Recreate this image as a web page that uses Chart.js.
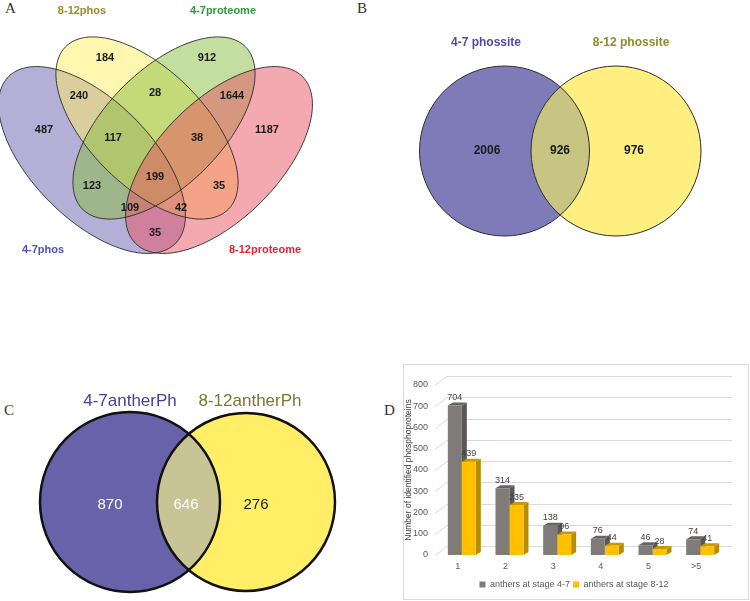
<!DOCTYPE html>
<html lang="en">
<head>
<meta charset="UTF-8">
<title>Anther phosphoproteome overlaps</title>
<script src="https://cdn.jsdelivr.net/npm/chart.js"></script>
<style>
  body { margin: 0; background: #fff; }
  #page { position: relative; width: 750px; height: 601px; overflow: hidden; }
  .letter { position: absolute; font-family: "Liberation Serif", "DejaVu Serif", serif; font-size: 15px; color: #333; line-height: 17px; }
  .box { position: absolute; }
  #boxD { border: 1px solid #d9d9d9; }
  canvas { display: block; }
</style>
</head>
<body>
<div id="page">
  <div class="letter" style="left:5px;top:0px">A</div>
  <div class="letter" style="left:357px;top:0px">B</div>
  <div class="letter" style="left:4px;top:402px">C</div>
  <div class="letter" style="left:384px;top:402px">D</div>

  <div class="box" style="left:0;top:0"><canvas id="chartA" width="375" height="300"></canvas></div>
  <div class="box" style="left:380px;top:0"><canvas id="chartB" width="370" height="300"></canvas></div>
  <div class="box" style="left:0;top:380px"><canvas id="chartC" width="375" height="221"></canvas></div>
  <div class="box" id="boxD" style="left:403px;top:364px"><canvas id="chartD" width="344" height="234"></canvas></div>
</div>
<script>
  Chart.defaults.font.family = '"Liberation Sans", Arial, sans-serif';

  // ---- A: four-way venn ----
  const quadSetNames = ['4-7phos', '8-12phos', '4-7proteome', '8-12proteome'];
  const quadRegionCounts = [184, 912, 240, 28, 1644, 487, 117, 38, 1187, 123, 199, 35, 109, 42, 35];

  // ---- B: phosphosites ----
  const phossiteSetNames = ['4-7 phossite', '8-12 phossite'];
  const phossiteCounts = [2006, 926, 976];

  // ---- C: anther phosphoproteins ----
  const antherSetNames = ['4-7antherPh', '8-12antherPh'];
  const antherCounts = [870, 646, 276];

  // ---- D: phosphosites per protein ----
  const siteGroups = ['1', '2', '3', '4', '5', '>5'];
  const stage47 = [704, 314, 138, 76, 46, 74];
  const stage812 = [439, 235, 96, 44, 28, 41];
  const stageNames = ['anthers at stage 4-7', 'anthers at stage 8-12'];
  const yTickStep = 100;
  const yMax = 800;

  // venn layout, panel units = pixels of each panel
  const quadEllipses = [
    { cx: 92, cy: 160, a: 118, b: 59.5, rot: 45, fill: 'rgba(105,95,175,0.5)' },
    { cx: 147, cy: 128, a: 115, b: 58, rot: 45, fill: 'rgba(255,237,97,0.5)' },
    { cx: 164, cy: 128, a: 115, b: 58, rot: -45, fill: 'rgba(137,189,65,0.5)' },
    { cx: 219, cy: 160, a: 118, b: 59.5, rot: -45, fill: 'rgba(233,81,97,0.5)' }
  ];
  const quadSetSpots = [[43, 250], [82, 11], [223, 11], [265, 250]];
  const quadSetColors = ['#5050b8', '#9a8c2a', '#2e9a3a', '#e0262e'];
  const quadRegionSpots = [
    [105, 58], [207, 58],
    [79, 96], [155, 93], [232, 96],
    [44, 130], [113, 138], [197, 138], [267, 130],
    [92, 186], [155, 177], [219, 186],
    [130, 208], [181, 208],
    [155, 233]
  ];

  function ellipsePath(ctx, xs, ys, e) {
    const th = e.rot * Math.PI / 180;
    ctx.beginPath();
    for (let i = 0; i <= 180; i++) {
      const t = i / 180 * Math.PI * 2;
      const px = e.cx + e.a * Math.cos(t) * Math.cos(th) - e.b * Math.sin(t) * Math.sin(th);
      const py = e.cy + e.a * Math.cos(t) * Math.sin(th) + e.b * Math.sin(t) * Math.cos(th);
      const X = xs.getPixelForValue(px), Y = ys.getPixelForValue(py);
      if (i === 0) ctx.moveTo(X, Y); else ctx.lineTo(X, Y);
    }
    ctx.closePath();
  }

  function drawCounts(chart, font, colors) {
    const ctx = chart.ctx;
    const meta = chart.getDatasetMeta(0);
    const vals = chart.data.datasets[0].counts;
    ctx.save();
    ctx.font = font;
    ctx.textAlign = 'center';
    ctx.textBaseline = 'middle';
    meta.data.forEach((pt, i) => {
      ctx.fillStyle = Array.isArray(colors) ? colors[i] : colors;
      ctx.fillText(vals[i], pt.x, pt.y);
    });
    ctx.restore();
  }

  const quadPlugin = {
    id: 'quadVenn',
    beforeDatasetsDraw(chart) {
      const ctx = chart.ctx, xs = chart.scales.x, ys = chart.scales.y;
      ctx.save();
      quadEllipses.forEach(e => { ellipsePath(ctx, xs, ys, e); ctx.fillStyle = e.fill; ctx.fill(); });
      ctx.strokeStyle = '#2a2a2a';
      ctx.lineWidth = 0.9;
      quadEllipses.forEach(e => { ellipsePath(ctx, xs, ys, e); ctx.stroke(); });
      ctx.font = 'bold 11px "Liberation Sans", Arial, sans-serif';
      ctx.textAlign = 'center';
      ctx.textBaseline = 'middle';
      quadSetNames.forEach((n, i) => {
        ctx.fillStyle = quadSetColors[i];
        ctx.fillText(n, xs.getPixelForValue(quadSetSpots[i][0]), ys.getPixelForValue(quadSetSpots[i][1]));
      });
      ctx.restore();
    },
    afterDatasetsDraw(chart) {
      drawCounts(chart, 'bold 11px "Liberation Sans", Arial, sans-serif', '#1a1a1a');
    }
  };

  function vennScatter(id, w, h, counts, spots, plugin) {
    return new Chart(document.getElementById(id), {
      type: 'scatter',
      data: {
        datasets: [{
          data: spots.map(p => ({ x: p[0], y: p[1] })),
          counts: counts,
          pointRadius: 0
        }]
      },
      options: {
        responsive: false,
        animation: false,
        layout: { padding: 0 },
        scales: {
          x: { display: false, min: 0, max: w },
          y: { display: false, min: 0, max: h, reverse: true }
        },
        plugins: { legend: { display: false }, tooltip: { enabled: false } }
      },
      plugins: [plugin]
    });
  }

  vennScatter('chartA', 375, 300, quadRegionCounts, quadRegionSpots, quadPlugin);

  // two circle venn
  function pairPlugin(cfg) {
    return {
      id: 'pairVenn',
      beforeDatasetsDraw(chart) {
        const ctx = chart.ctx, xs = chart.scales.x, ys = chart.scales.y;
        const circ = c => {
          const r = Math.abs(xs.getPixelForValue(c.r) - xs.getPixelForValue(0));
          ctx.beginPath();
          ctx.arc(xs.getPixelForValue(c.x), ys.getPixelForValue(c.y), r, 0, Math.PI * 2);
        };
        ctx.save();
        circ(cfg.circles[0]); ctx.fillStyle = cfg.fills[0]; ctx.fill();
        circ(cfg.circles[1]); ctx.fillStyle = cfg.fills[1]; ctx.fill();
        ctx.save();
        circ(cfg.circles[0]); ctx.clip();
        circ(cfg.circles[1]); ctx.fillStyle = cfg.fills[2]; ctx.fill();
        ctx.restore();
        ctx.strokeStyle = cfg.stroke;
        ctx.lineWidth = cfg.strokeWidth;
        circ(cfg.circles[0]); ctx.stroke();
        circ(cfg.circles[1]); ctx.stroke();
        ctx.font = cfg.setFont;
        ctx.textAlign = 'center';
        ctx.textBaseline = 'middle';
        cfg.names.forEach((n, i) => {
          ctx.fillStyle = cfg.nameColors[i];
          ctx.fillText(n, xs.getPixelForValue(cfg.nameSpots[i][0]), ys.getPixelForValue(cfg.nameSpots[i][1]));
        });
        ctx.restore();
      },
      afterDatasetsDraw(chart) {
        drawCounts(chart, cfg.countFont, cfg.countColors);
      }
    };
  }

  vennScatter('chartB', 370, 300, phossiteCounts, [[107, 151], [180, 151], [254, 151]], pairPlugin({
    names: phossiteSetNames,
    nameSpots: [[106, 43], [251, 43]],
    nameColors: ['#4f4ca6', '#958a2c'],
    circles: [{ x: 124.5, y: 151, r: 85 }, { x: 236, y: 151, r: 85 }],
    fills: ['#7f7bb9', '#ffee80', '#c8c482'],
    stroke: '#2b2b2b',
    strokeWidth: 1,
    setFont: 'bold 12px "Liberation Sans", Arial, sans-serif',
    countFont: 'bold 12px "Liberation Sans", Arial, sans-serif',
    countColors: '#1a1a1a'
  }));

  vennScatter('chartC', 375, 221, antherCounts, [[110, 125], [186, 125], [256, 125]], pairPlugin({
    names: antherSetNames,
    nameSpots: [[130, 21], [250, 21]],
    nameColors: ['#463f9c', '#7f7630'],
    circles: [{ x: 130, y: 122, r: 90 }, { x: 246, y: 122, r: 89 }],
    fills: ['#6762aa', '#ffee66', '#c8c496'],
    stroke: '#111',
    strokeWidth: 2.5,
    setFont: '17px "Liberation Sans", Arial, sans-serif',
    countFont: '15px "Liberation Sans", Arial, sans-serif',
    countColors: ['#ffffff', '#ffffff', '#1a1a1a']
  }));

  // ---- D: pseudo 3D bars ----
  const depth = { dx: 5, dy: 3 };
  const wall = { dx: 12, dy: 9 };

  const depthPlugin = {
    id: 'depth',
    afterLayout(chart) {
      // nudge legend to the centre of the frame
      chart.legend.left += 10;
      chart.legend.right += 10;
    },
    beforeDatasetsDraw(chart) {
      const ctx = chart.ctx, ys = chart.scales.y, ca = chart.chartArea;
      ctx.save();
      ctx.strokeStyle = '#d9d9d9';
      ctx.lineWidth = 1;
      for (let v = 0; v <= yMax; v += yTickStep) {
        const y = Math.round(ys.getPixelForValue(v)) + 0.5;
        ctx.beginPath();
        ctx.moveTo(ca.left - 3, y);
        ctx.lineTo(ca.left - 3 + wall.dx, y - wall.dy);
        ctx.lineTo(ca.right + 8, y - wall.dy);
        ctx.stroke();
      }
      chart.data.datasets.forEach((ds, di) => {
        chart.getDatasetMeta(di).data.forEach(bar => {
          const l = bar.x - bar.width / 2, r = bar.x + bar.width / 2;
          ctx.fillStyle = ds.sideColor;
          ctx.beginPath();
          ctx.moveTo(r, bar.y);
          ctx.lineTo(r + depth.dx, bar.y - depth.dy);
          ctx.lineTo(r + depth.dx, bar.base - depth.dy);
          ctx.lineTo(r, bar.base);
          ctx.closePath();
          ctx.fill();
          ctx.fillStyle = ds.topColor;
          ctx.beginPath();
          ctx.moveTo(l, bar.y);
          ctx.lineTo(l + depth.dx, bar.y - depth.dy);
          ctx.lineTo(r + depth.dx, bar.y - depth.dy);
          ctx.lineTo(r, bar.y);
          ctx.closePath();
          ctx.fill();
        });
      });
      ctx.restore();
    },
    afterDatasetsDraw(chart) {
      const ctx = chart.ctx;
      ctx.save();
      ctx.font = '9px "Liberation Sans", Arial, sans-serif';
      ctx.fillStyle = '#404040';
      ctx.textAlign = 'center';
      ctx.textBaseline = 'middle';
      chart.data.datasets.forEach((ds, di) => {
        chart.getDatasetMeta(di).data.forEach((bar, i) => {
          ctx.fillText(ds.data[i], bar.x, bar.y - 8);
        });
      });
      ctx.restore();
    }
  };

  new Chart(document.getElementById('chartD'), {
    type: 'bar',
    data: {
      labels: siteGroups,
      datasets: [
        { label: stageNames[0], data: stage47, backgroundColor: '#7f7b79', sideColor: '#5a5755', topColor: '#666361' },
        { label: stageNames[1], data: stage812, backgroundColor: '#ffc000', sideColor: '#b88c00', topColor: '#c99a00' }
      ]
    },
    options: {
      responsive: false,
      animation: false,
      layout: { padding: { left: 0, right: 24, top: 20, bottom: 0 } },
      datasets: { bar: { categoryPercentage: 0.587, barPercentage: 1 } },
      scales: {
        x: {
          grid: { display: false, drawTicks: false },
          border: { display: false },
          ticks: { color: '#595959', font: { size: 9 }, padding: 6, labelOffset: -4 },
          afterFit: s => { s.height = 22; }
        },
        y: {
          min: 0,
          max: yMax,
          grid: { display: false, drawTicks: false },
          border: { display: false },
          ticks: { stepSize: yTickStep, padding: 10, color: '#595959', font: { size: 9 }, autoSkip: false },
          title: { display: true, text: 'Number of identified phosphoproteins', color: '#404040', font: { size: 8.5 }, padding: { top: 0, bottom: 0 } },
          afterFit: s => { s.width = 34; }
        }
      },
      plugins: {
        legend: {
          position: 'bottom',
          labels: { boxWidth: 6, boxHeight: 6, padding: 3, color: '#595959', font: { size: 9 } }
        },
        tooltip: { enabled: false }
      }
    },
    plugins: [depthPlugin]
  });
</script>
</body>
</html>
